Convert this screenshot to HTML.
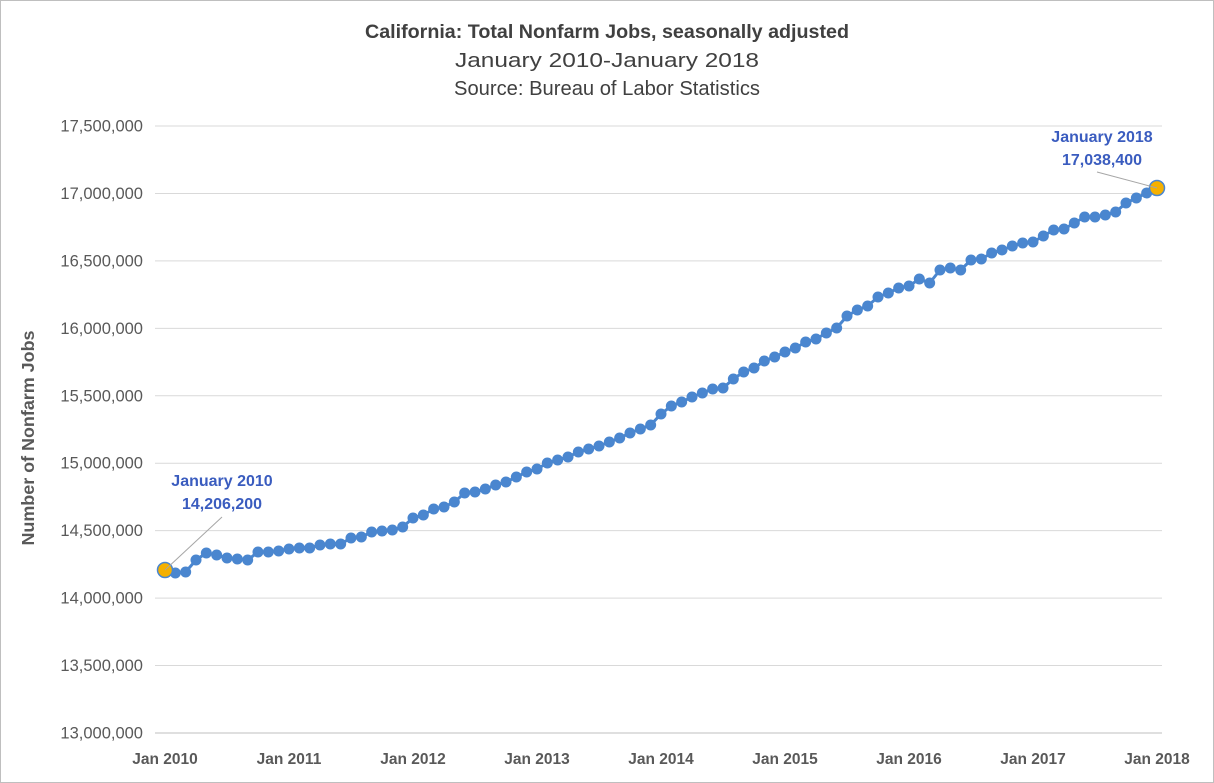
<!DOCTYPE html>
<html><head><meta charset="utf-8"><style>
body{margin:0;background:#fff}
svg{display:block;font-family:"Liberation Sans",Arial,sans-serif}
</style></head><body>
<svg width="1214" height="783" viewBox="0 0 1214 783">
<rect x="0.5" y="0.5" width="1213" height="782" fill="#fff" stroke="#bfbfbf"/>
<text x="607" y="38" text-anchor="middle" font-size="19.5" font-weight="bold" fill="#404040" textLength="484" lengthAdjust="spacingAndGlyphs">California: Total Nonfarm Jobs, seasonally adjusted</text>
<text x="607" y="67" text-anchor="middle" font-size="20" fill="#404040" textLength="304" lengthAdjust="spacingAndGlyphs">January 2010-January 2018</text>
<text x="607" y="95" text-anchor="middle" font-size="20" fill="#404040" textLength="306" lengthAdjust="spacingAndGlyphs">Source: Bureau of Labor Statistics</text>
<g id="grid" stroke="#d9d9d9" stroke-width="1"></g>
<g id="ylab" font-size="16.5" fill="#595959" text-anchor="end"></g>
<g id="xlab" font-size="15.5" font-weight="bold" fill="#595959" text-anchor="middle"></g>
<text transform="translate(34,438) rotate(-90)" text-anchor="middle" font-size="17.5" font-weight="bold" fill="#595959" textLength="215" lengthAdjust="spacingAndGlyphs">Number of Nonfarm Jobs</text>
<g id="series"></g>
<line x1="165" y1="570" x2="222" y2="517" stroke="#a6a6a6"/>
<line x1="1157" y1="188" x2="1097" y2="172" stroke="#a6a6a6"/>
<text x="222" y="486" text-anchor="middle" font-size="16" font-weight="bold" fill="#3a5cbf">January 2010</text>
<text x="222" y="509" text-anchor="middle" font-size="16" font-weight="bold" fill="#3a5cbf">14,206,200</text>
<text x="1102" y="142" text-anchor="middle" font-size="16" font-weight="bold" fill="#3a5cbf">January 2018</text>
<text x="1102" y="165" text-anchor="middle" font-size="16" font-weight="bold" fill="#3a5cbf">17,038,400</text>
</svg>
<script>
var ns="http://www.w3.org/2000/svg";
function el(t,a,p){var e=document.createElementNS(ns,t);for(var k in a)e.setAttribute(k,a[k]);p.appendChild(e);return e;}
var g=document.getElementById("grid"),yl=document.getElementById("ylab"),xl=document.getElementById("xlab"),s=document.getElementById("series");
var labels=["13,000,000","13,500,000","14,000,000","14,500,000","15,000,000","15,500,000","16,000,000","16,500,000","17,000,000","17,500,000"];
for(var i=0;i<10;i++){var y=733-i*67.44;el("line",{x1:155,x2:1162,y1:y,y2:y,stroke:i==0?"#bfbfbf":"#d9d9d9"},g);var t=el("text",{x:143,y:y+5.5},yl);t.textContent=labels[i];}
for(var j=0;j<=8;j++){var t=el("text",{x:165+j*124,y:764},xl);t.textContent="Jan "+(2010+j);}
var ys=[570,573,572,560,553,555,558,559,560,552,552,551,549,548,548,545,544,544,538,537,532,531,530,527,518,515,509,507,502,493,492,489,485,482,477,472,469,463,460,457,452,449,446,442,438,433,429,425,414,
406,402,397,393,389,388,379,372,368,361,357,352,348,342,339,333,328,316,310,306,297,293,288,286,279,283,270,268,270,260,259,253,250,246,243,242,236,230,229,223,217,217,215,212,203,198,193,188];
var pts=ys.map(function(y,i){return (165+i*992/96)+","+y;});
el("polyline",{points:pts.join(" "),fill:"none",stroke:"#4a86cf","stroke-width":3},s);
ys.forEach(function(y,i){if(i==0||i==96)return;el("circle",{cx:165+i*992/96,cy:y,r:5.5,fill:"#4a86cf"},s);});
el("circle",{cx:165,cy:570,r:7.5,fill:"#f5b000",stroke:"#4a86cf","stroke-width":1.5},s);
el("circle",{cx:1157,cy:188,r:7.5,fill:"#f5b000",stroke:"#4a86cf","stroke-width":1.5},s);
</script>
</body></html>
